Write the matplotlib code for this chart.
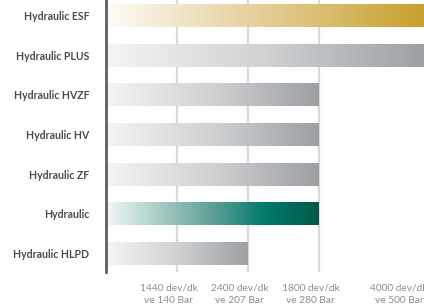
import matplotlib.pyplot as plt
import numpy as np
from matplotlib.colors import LinearSegmentedColormap

# data (relative lengths on the x scale)
models = ['Hydraulic ESF', 'Hydraulic PLUS', 'Hydraulic HVZF', 'Hydraulic HV',
          'Hydraulic ZF', 'Hydraulic', 'Hydraulic HLPD']
levels = [4.5, 4.5, 3, 3, 3, 3, 2]
styles = ['gold', 'grey', 'grey', 'grey', 'grey', 'teal', 'grey']
tick_pos = [1, 2, 3, 4.25]
tick_labels = ['1440 dev/dk\nve 140 Bar', '2400 dev/dk\nve 207 Bar',
               '1800 dev/dk\nve 280 Bar', '4000 dev/dk\nve 500 Bar']

plt.rcParams['font.family'] = ['Lato', 'DejaVu Sans']

cmaps = {
    'gold': LinearSegmentedColormap.from_list('gold', [(0, '#fdfbf6'), (0.5, '#e4cd95'), (1, '#c7a02c')]),
    'grey': LinearSegmentedColormap.from_list('grey', [(0, '#f4f4f5'), (0.5, '#cfd1d3'), (1, '#9da0a3')]),
    'teal': LinearSegmentedColormap.from_list('teal', [(0, '#f0f6f5'), (0.5, '#5c9f94'),
                                                       (0.75, '#007a6b'), (1, '#00594b')]),
}

fig = plt.figure(figsize=(4.24, 3.08), dpi=100)
ax = fig.add_axes([106 / 424, 1 - 272 / 308, 1 - 106 / 424, 272 / 308])

h = 0.58
grad = np.linspace(0, 1, 256).reshape(1, -1)
for i, (v, s) in enumerate(zip(levels, styles)):
    ax.imshow(grad, cmap=cmaps[s], aspect='auto', extent=[0.03, v, i + h / 2, i - h / 2],
              zorder=2, interpolation='bilinear')

for x in [1, 2, 3]:
    ax.axvline(x, color='#d9d9d9', lw=1.6, zorder=1)

ax.set_xlim(0, 4.48)
ax.set_ylim(6.47, -0.39)

ax.set_yticks(range(len(models)))
ax.set_yticklabels(models, fontsize=7.6, fontweight='bold', color='#4a4b4d')
ax.tick_params(axis='y', length=0, pad=12)
ax.set_xticks([])

for x, lab in zip(tick_pos, tick_labels):
    ax.text(x - 0.12, 6.47 + 0.28, lab, ha='center', va='top', fontsize=7.3,
            color='#8c8c8c', linespacing=1.6, clip_on=False)

for side in ['top', 'right', 'bottom']:
    ax.spines[side].set_visible(False)
ax.spines['left'].set_color('#5e5f61')
ax.spines['left'].set_linewidth(2)

fig.savefig('out.png', dpi=100)
